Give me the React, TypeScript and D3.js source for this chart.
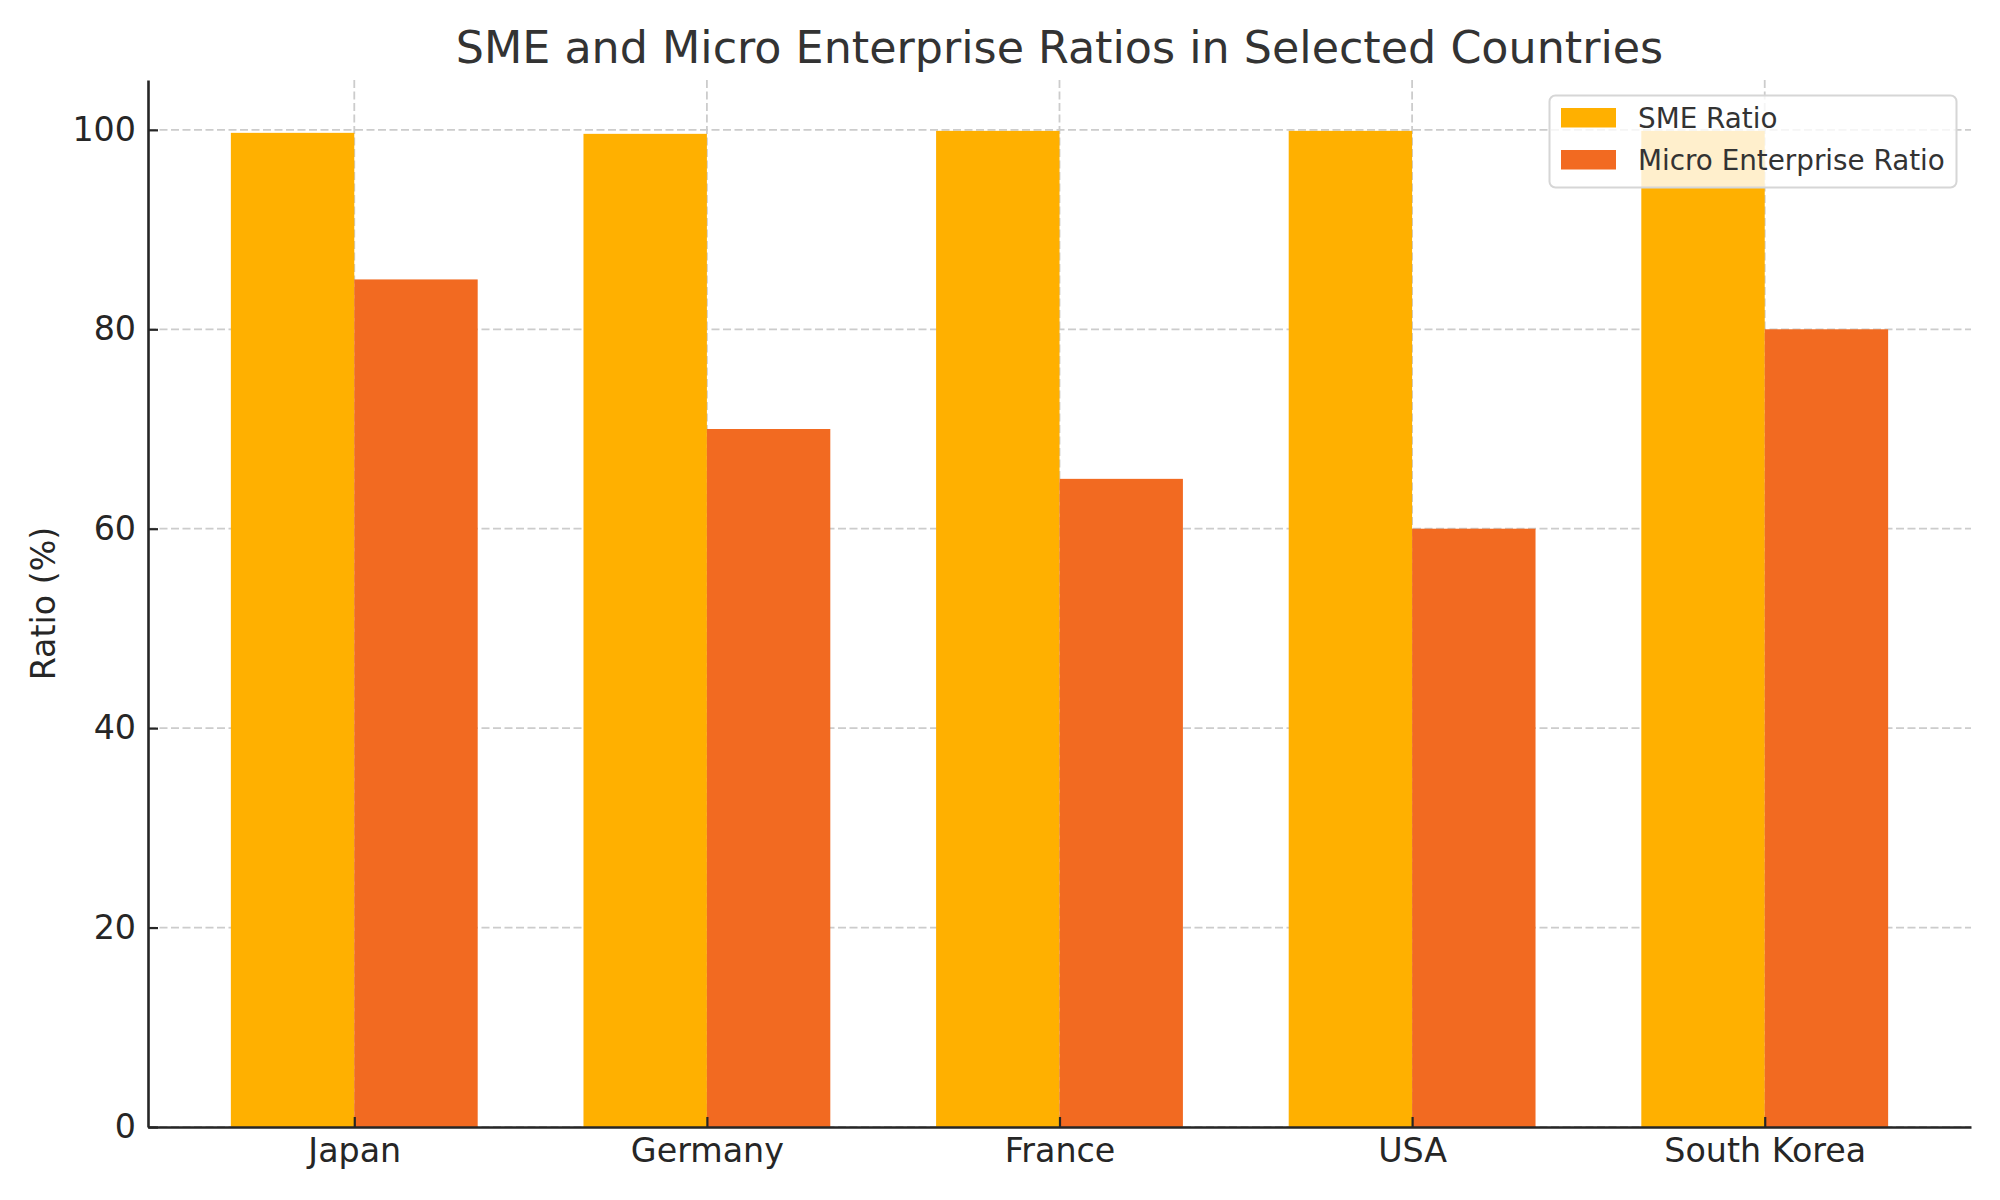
import { useEffect, useRef } from 'react'
import * as d3 from 'd3'

const countries = ['Japan', 'Germany', 'France', 'USA', 'South Korea']
const smeRatio = [99.7, 99.6, 99.9, 99.9, 99.9]
const microRatio = [85, 70, 65, 60, 80]
const yTicks = [0, 20, 40, 60, 80, 100]
const seriesNames = ['SME Ratio', 'Micro Enterprise Ratio']
const seriesColors = ['#FFB000', '#F26A21']

export default function App() {
  const ref = useRef<SVGSVGElement | null>(null)
  useEffect(() => {
    if (!ref.current) return
    const svg = d3.select(ref.current)
    svg.selectAll('*').remove()
    const width = 2000
    const height = 1200
    const margin = { top: 80, right: 29, bottom: 73, left: 148 }
    const font = 'DejaVu Sans, sans-serif'
    const ink = '#262626'
    const barW = 0.35
    const x = d3
      .scaleLinear()
      .domain([-0.5 - 0.085, countries.length - 0.5 + 0.085])
      .range([margin.left, width - margin.right])
    const y = d3
      .scaleLinear()
      .domain([0, 105])
      .range([height - margin.bottom, margin.top])
    const bw = x(barW) - x(0)

    svg.append('rect').attr('width', width).attr('height', height).attr('fill', '#fff')

    // grid
    const grid = svg.append('g').attr('stroke', '#cccccc').attr('stroke-width', 1.8).attr('stroke-dasharray', '8,3.5')
    grid
      .selectAll('line.h')
      .data(yTicks)
      .enter()
      .append('line')
      .attr('x1', margin.left)
      .attr('x2', width - margin.right)
      .attr('y1', (d) => y(d))
      .attr('y2', (d) => y(d))
    grid
      .selectAll('line.v')
      .data(countries)
      .enter()
      .append('line')
      .attr('x1', (_, i) => x(i))
      .attr('x2', (_, i) => x(i))
      .attr('y1', margin.top)
      .attr('y2', height - margin.bottom)

    // bars
    const series = [smeRatio, microRatio]
    series.forEach((vals, s) => {
      svg
        .append('g')
        .selectAll('rect')
        .data(vals)
        .enter()
        .append('rect')
        .attr('x', (_, i) => (s === 0 ? x(i - barW) : x(i)))
        .attr('y', (d) => y(d))
        .attr('width', bw)
        .attr('height', (d) => y(0) - y(d))
        .attr('fill', seriesColors[s])
    })

    // axes
    const yAxis = svg
      .append('g')
      .attr('transform', `translate(${margin.left},0)`)
      .call(d3.axisLeft(y).tickValues(yTicks).tickFormat(d3.format('d')).tickSize(-10).tickSizeOuter(0).tickPadding(12))
    const xAxis = svg
      .append('g')
      .attr('transform', `translate(0,${height - margin.bottom})`)
      .call(
        d3
          .axisBottom(x)
          .tickValues(countries.map((_, i) => i))
          .tickFormat((d) => countries[d as number])
          .tickSize(-10)
          .tickSizeOuter(0)
          .tickPadding(11)
      )
    ;[xAxis, yAxis].forEach((ax) => {
      ax.select('.domain').attr('stroke', ink).attr('stroke-width', 2.6)
      ax.selectAll('.tick line').attr('stroke', ink).attr('stroke-width', 2.2)
      ax.selectAll('.tick text').attr('fill', ink).attr('font-size', 33.3).attr('font-family', font)
    })

    // title and label
    svg
      .append('text')
      .attr('x', (margin.left + width - margin.right) / 2)
      .attr('y', 63)
      .attr('text-anchor', 'middle')
      .attr('font-family', font)
      .attr('font-size', 44.4)
      .attr('fill', '#333333')
      .text('SME and Micro Enterprise Ratios in Selected Countries')
    svg
      .append('text')
      .attr('transform', `translate(55,${(margin.top + height - margin.bottom) / 2}) rotate(-90)`)
      .attr('text-anchor', 'middle')
      .attr('font-family', font)
      .attr('font-size', 33.3)
      .attr('fill', ink)
      .text('Ratio (%)')

    // legend
    const lg = svg.append('g')
    lg.append('rect')
      .attr('x', 1549.5)
      .attr('y', 95.5)
      .attr('width', 407)
      .attr('height', 92)
      .attr('rx', 6)
      .attr('fill', '#fff')
      .attr('fill-opacity', 0.8)
      .attr('stroke', '#d6d6d6')
      .attr('stroke-width', 2)
    seriesNames.forEach((name, i) => {
      lg.append('rect')
        .attr('x', 1561)
        .attr('y', 108 + i * 42)
        .attr('width', 55)
        .attr('height', 19.5)
        .attr('fill', seriesColors[i])
      lg.append('text')
        .attr('x', 1638)
        .attr('y', 128 + i * 42)
        .attr('font-family', font)
        .attr('font-size', 27.8)
        .attr('fill', '#333333')
        .text(name)
    })
  }, [])
  return <svg ref={ref} width={2000} height={1200} style={{ position: 'absolute', left: 0, top: 0 }} />
}
